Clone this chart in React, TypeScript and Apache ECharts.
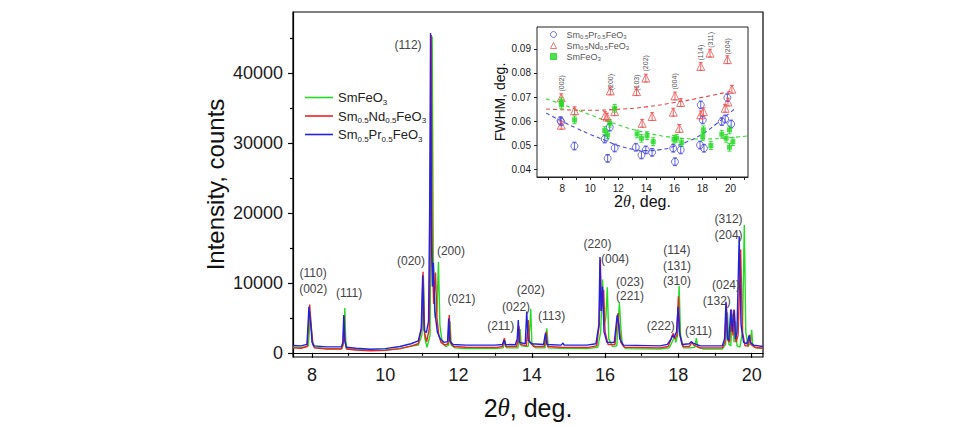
import { useEffect, useRef } from "react";
import * as echarts from "echarts";

const FONT = "'Liberation Sans', Arial, Helvetica, sans-serif";
const SERIF = "'Liberation Serif', 'Times New Roman', serif";

// X-ray diffraction patterns: [2θ (deg), intensity (counts)]
const smFeO3: number[][] = [
  [7.48, 800], [7.7, 750], [7.9, 1000], [7.93, 3500], [7.95, 5900], [7.98, 3500], [8.02, 1500], [8.08, 800],
  [8.4, 600], [8.82, 600], [8.87, 1500], [8.895, 6400], [8.92, 1700], [8.96, 550], [9.2, 450], [9.6, 350],
  [10.0, 400], [10.4, 600], [10.7, 950], [10.9, 1100], [11.0, 2500], [11.04, 10900], [11.08, 2000], [11.14, 800],
  [11.22, 2500], [11.25, 20000], [11.28, 45300], [11.31, 14000], [11.36, 5000], [11.41, 6000], [11.45, 13000],
  [11.49, 4000], [11.55, 1500], [11.65, 900], [11.73, 1100], [11.765, 4500], [11.8, 1100], [11.9, 700],
  [12.2, 600], [13.0, 600], [13.22, 700], [13.27, 1700], [13.31, 700], [13.62, 700], [13.68, 3400], [13.71, 1000],
  [13.9, 900], [13.95, 4000], [13.97, 6300], [14.0, 1500], [14.1, 700], [14.36, 700], [14.41, 3500], [14.45, 700],
  [14.8, 650], [15.5, 600], [15.8, 800], [15.88, 3000], [15.93, 10500], [15.97, 4000], [16.02, 5000], [16.06, 9400],
  [16.1, 2000], [16.2, 900], [16.32, 1000], [16.39, 7200], [16.43, 3500], [16.47, 1200], [16.56, 600], [17.5, 550],
  [17.75, 700], [17.85, 1800], [17.9, 2300], [17.93, 1500], [17.98, 2500], [18.02, 9600], [18.06, 2500], [18.14, 700],
  [18.3, 700], [18.45, 800], [18.49, 2100], [18.53, 800], [18.7, 550], [19.2, 550], [19.29, 1200], [19.34, 5800],
  [19.38, 1200], [19.43, 1000], [19.48, 5600], [19.52, 1500], [19.56, 4500], [19.6, 1000], [19.68, 800],
  [19.75, 3000], [19.8, 18300], [19.84, 3000], [19.9, 900], [19.97, 1500], [20.0, 3300], [20.03, 1200],
  [20.12, 700], [20.31, 600],
];

const smNdFeO3: number[][] = [
  [7.48, 700], [7.7, 650], [7.87, 900], [7.91, 4500], [7.935, 6900], [7.96, 4800], [7.99, 3000], [8.02, 1200],
  [8.07, 700], [8.4, 550], [8.8, 550], [8.85, 1300], [8.875, 5300], [8.9, 1700], [8.94, 550], [9.2, 400],
  [9.6, 300], [10.0, 350], [10.4, 600], [10.7, 950], [10.9, 1300], [10.99, 3500], [11.03, 11600], [11.07, 2800],
  [11.13, 1600], [11.2, 3500], [11.23, 20000], [11.255, 45500], [11.28, 14000], [11.32, 7000], [11.37, 11500],
  [11.41, 5000], [11.46, 2500], [11.52, 1500], [11.62, 1100], [11.71, 1300], [11.745, 5400], [11.78, 1400],
  [11.87, 900], [12.2, 800], [13.0, 750], [13.2, 900], [13.25, 2100], [13.29, 900], [13.58, 900], [13.62, 1800],
  [13.65, 3800], [13.68, 1200], [13.85, 1000], [13.9, 4700], [13.94, 1500], [14.05, 900], [14.34, 900],
  [14.39, 3050], [14.43, 900], [14.8, 800], [15.5, 750], [15.77, 1000], [15.84, 4000], [15.87, 13400],
  [15.9, 6000], [15.96, 9000], [16.0, 3000], [16.08, 1200], [16.27, 1200], [16.35, 5700], [16.39, 3500],
  [16.43, 1500], [16.52, 800], [17.5, 700], [17.72, 900], [17.82, 2200], [17.86, 2800], [17.9, 2000],
  [17.96, 2500], [18.0, 8100], [18.04, 2500], [18.12, 900], [18.3, 900], [18.37, 1500], [18.42, 1100],
  [18.6, 700], [19.2, 700], [19.27, 1500], [19.31, 7100], [19.35, 1800], [19.4, 1500], [19.45, 6200],
  [19.49, 2500], [19.53, 6100], [19.57, 1500], [19.63, 2500], [19.7, 14800], [19.75, 3000], [19.82, 1000],
  [19.9, 1000], [19.95, 2600], [19.98, 1200], [20.08, 800], [20.31, 650],
];

const smPrFeO3: number[][] = [
  [7.48, 1050], [7.7, 1000], [7.86, 1200], [7.89, 4000], [7.915, 6600], [7.94, 5200], [7.97, 3800], [8.0, 1500],
  [8.05, 1000], [8.4, 850], [8.8, 850], [8.84, 1500], [8.865, 5400], [8.89, 2000], [8.93, 800], [9.2, 650],
  [9.6, 500], [10.0, 600], [10.4, 900], [10.7, 1300], [10.9, 1700], [10.98, 3500], [11.02, 11100], [11.06, 3200],
  [11.12, 2900], [11.18, 4500], [11.21, 20000], [11.235, 45800], [11.26, 16000], [11.285, 9500], [11.31, 12900],
  [11.35, 6000], [11.42, 3000], [11.5, 2000], [11.6, 1500], [11.7, 1600], [11.73, 4900], [11.76, 1700],
  [11.85, 1200], [12.2, 1100], [13.0, 1100], [13.2, 1200], [13.24, 1850], [13.28, 1200], [13.55, 1150],
  [13.6, 2000], [13.63, 4700], [13.66, 1500], [13.82, 1300], [13.86, 5900], [13.9, 1800], [14.0, 1300],
  [14.32, 1200], [14.37, 2800], [14.41, 1200], [14.8, 1100], [14.85, 1400], [14.88, 1100], [15.5, 1100],
  [15.75, 1300], [15.83, 4000], [15.86, 13700], [15.89, 6000], [15.93, 9500], [15.97, 3000], [16.05, 1500],
  [16.25, 1500], [16.33, 5400], [16.37, 4000], [16.4, 2000], [16.5, 1100], [17.5, 1000], [17.7, 1200],
  [17.8, 2000], [17.84, 2500], [17.88, 2200], [17.95, 3000], [17.99, 6600], [18.03, 3000], [18.1, 1200],
  [18.3, 1300], [18.35, 1600], [18.4, 1400], [18.6, 1000], [19.2, 1000], [19.26, 2000], [19.3, 7300],
  [19.34, 2000], [19.38, 1800], [19.43, 6200], [19.47, 3000], [19.52, 6200], [19.56, 2000], [19.6, 3000],
  [19.66, 16700], [19.71, 4000], [19.78, 1500], [19.87, 1300], [19.93, 2500], [19.96, 1500], [20.05, 1100],
  [20.31, 900],
];

const xTicks = [8, 10, 12, 14, 16, 18, 20];
const xMinorTicks = [9, 11, 13, 15, 17, 19];
const yTicks = [0, 10000, 20000, 30000, 40000];
const yMinorTicks = [5000, 15000, 25000, 35000, 45000];

// Miller indices placed at [2θ, intensity]
const peakLabels: [string, number, number][] = [
  ["(110)", 8.03, 11420], ["(002)", 8.03, 9170], ["(111)", 9.01, 8560], ["(020)", 10.70, 13080],
  ["(112)", 10.62, 44140], ["(200)", 11.79, 14600], ["(021)", 12.08, 7740], ["(211)", 13.15, 3770],
  ["(022)", 13.57, 6550], ["(202)", 13.97, 8930], ["(113)", 14.54, 5200], ["(220)", 15.79, 15580],
  ["(004)", 16.27, 13430], ["(023)", 16.68, 10130], ["(221)", 16.68, 8070], ["(114)", 17.96, 14760],
  ["(131)", 17.96, 12470], ["(310)", 17.96, 10220], ["(222)", 17.52, 3770], ["(311)", 18.55, 3150],
  ["(024)", 19.30, 9740], ["(132)", 19.05, 7490], ["(312)", 19.37, 19160], ["(204)", 19.37, 16910],
];

// Peak widths: [2θ (deg), FWHM (deg)]
const fwhmPr: number[][] = [
  [7.88, 0.0603], [7.92, 0.0598], [8.87, 0.0498], [11.03, 0.0527], [11.24, 0.0447], [11.39, 0.0576],
  [11.74, 0.0490], [13.25, 0.0493], [13.65, 0.0461], [13.96, 0.0482], [14.41, 0.0472], [15.92, 0.0489],
  [16.04, 0.0433], [16.45, 0.0482], [17.83, 0.0502], [17.88, 0.0668], [18.02, 0.0606], [18.11, 0.0489],
  [19.38, 0.0599], [19.62, 0.0610], [19.78, 0.0698], [20.05, 0.0589],
];
const fwhmNd: number[][] = [
  [7.93, 0.0698], [7.93, 0.0584], [8.88, 0.0644], [11.05, 0.0624], [11.2, 0.0618], [11.43, 0.0726],
  [11.74, 0.0640], [13.30, 0.0723], [13.70, 0.0592], [13.96, 0.0779], [14.41, 0.0620], [15.92, 0.0638],
  [16.04, 0.0705], [16.35, 0.0571], [16.45, 0.0678], [17.88, 0.0827], [17.88, 0.0627], [18.07, 0.0640],
  [18.54, 0.0882], [19.62, 0.0654], [19.78, 0.0855], [19.82, 0.0680], [20.1, 0.0733],
];
const fwhmSm: number[][] = [
  [7.93, 0.0682], [7.95, 0.0668], [8.88, 0.0606], [11.03, 0.0562], [11.24, 0.0544], [11.39, 0.0592],
  [11.74, 0.0654], [13.34, 0.0548], [13.65, 0.0530], [14.05, 0.0541], [14.49, 0.0516], [15.97, 0.0526],
  [16.16, 0.0530], [16.52, 0.0512], [18.02, 0.0537], [18.07, 0.0565], [18.6, 0.0500], [19.38, 0.0547],
  [19.69, 0.0530], [19.93, 0.0565], [19.93, 0.0493], [20.17, 0.0516],
];
const fwhmError = 0.0016;

// Parabolic trends through the widths
const trendPr: number[][] = [
  [6.85, 0.0634], [8, 0.0600], [9, 0.0572], [10, 0.0546], [11, 0.0523], [12, 0.0500], [13, 0.0485],
  [14, 0.0479], [15, 0.0483], [16, 0.0497], [17, 0.0518], [18, 0.0548], [19, 0.0590], [20.3, 0.0652],
];
const trendNd: number[][] = [
  [6.85, 0.0651], [8, 0.0648], [10, 0.0646], [12, 0.0650], [14, 0.0660], [16, 0.0678], [18, 0.0699], [20.2, 0.0727],
];
const trendSm: number[][] = [
  [6.85, 0.0693], [8, 0.0670], [10, 0.0627], [12, 0.0585], [14, 0.0553], [16, 0.0533], [18, 0.0527],
  [20, 0.0533], [21.25, 0.0540],
];

const fwhmLabels: [string, number, number][] = [
  ["(002)", 7.93, 0.0757], ["(200)", 11.43, 0.0762], ["(103)", 13.30, 0.0760], ["(202)", 13.96, 0.0840],
  ["(004)", 16.04, 0.0765], ["(114)", 17.88, 0.0884], ["(311)", 18.54, 0.0937], ["(204)", 19.78, 0.0910],
];

const insetXTicks = [8, 10, 12, 14, 16, 18, 20];
const insetXAllTicks = [7, 8, 9, 10, 11, 12, 13, 14, 15, 16, 17, 18, 19, 20, 21];
const insetYTicks = [0.04, 0.05, 0.06, 0.07, 0.08, 0.09];

const NAMES = ["SmFeO3", "Sm0.5Nd0.5FeO3", "Sm0.5Pr0.5FeO3"];
const FWHM_NAMES = ["Sm0.5Pr0.5FeO3 FWHM", "Sm0.5Nd0.5FeO3 FWHM", "SmFeO3 FWHM"];

const GREEN = "#22dd22";
const RED = "#ee2222";
const BLUE = "#2222dd";
const P_BLUE = "#5050dd";
const P_RED = "#ee5555";
const P_GREEN = "#22d822";

// Chemical formula -> rich text with subscripted numbers
const formula = (s: string) =>
  s.replace(/(\d+(?:\.\d+)?)|([^\d]+)/g, (_m, d, t) => (d ? `{s|${d}}` : `{n|${t}}`));

const errorBars = (data: number[][], color: string, name: string) => ({
  type: "custom",
  name,
  xAxisIndex: 2,
  yAxisIndex: 2,
  silent: true,
  z: 3,
  data: data.map((p) => [p[0], p[1], fwhmError]),
  encode: { x: 0, y: 1 },
  renderItem: (_params: any, api: any) => {
    const x = api.value(0);
    const y = api.value(1);
    const e = api.value(2);
    const top = api.coord([x, y + e]);
    const bot = api.coord([x, y - e]);
    const cap = 2;
    const style = { stroke: color, lineWidth: 0.9 };
    return {
      type: "group",
      children: [
        { type: "line", shape: { x1: top[0], y1: top[1], x2: bot[0], y2: bot[1] }, style },
        { type: "line", shape: { x1: top[0] - cap, y1: top[1], x2: top[0] + cap, y2: top[1] }, style },
        { type: "line", shape: { x1: bot[0] - cap, y1: bot[1], x2: bot[0] + cap, y2: bot[1] }, style },
      ],
    };
  },
});

const trend = (data: number[][], color: string) => ({
  type: "line",
  xAxisIndex: 2,
  yAxisIndex: 2,
  data,
  smooth: true,
  symbol: "none",
  silent: true,
  z: 2,
  lineStyle: { color, width: 1.1, type: [4, 3] },
});

const spectrum = (name: string, data: number[][], color: string) => ({
  type: "line",
  name,
  xAxisIndex: 0,
  yAxisIndex: 0,
  data,
  symbol: "none",
  showSymbol: false,
  color,
  lineStyle: { color, width: 1.4 },
});

const axisText = { color: "#1a1a1a", fontFamily: FONT };

function buildOption(): any {
  const thetaName = (size: number) => ({
    fontFamily: FONT,
    color: "#111",
    rich: {
      n: { fontSize: size, fontFamily: FONT, color: "#111" },
      i: { fontSize: size, fontFamily: SERIF, fontStyle: "italic", color: "#111" },
    },
  });
  return {
    animation: false,
    backgroundColor: "#fff",
    grid: [
      { left: 293, top: 12, width: 470, height: 345, show: true, borderColor: "#000", borderWidth: 1.2, backgroundColor: "transparent", outerBoundsMode: "none" },
      { left: 537, top: 27, width: 211, height: 150, show: true, borderColor: "#222", borderWidth: 1, backgroundColor: "#fff", outerBoundsMode: "none", z: 1 },
    ],
    legend: [
      {
        data: NAMES.map((name) => ({ name, icon: "rect" })),
        orient: "vertical",
        left: 300,
        top: 86,
        itemWidth: 28,
        itemHeight: 1.6,
        itemGap: 3,
        selectedMode: false,
        formatter: (n: string) => formula(n),
        textStyle: {
          rich: {
            n: { fontSize: 13, lineHeight: 18, fontFamily: FONT, color: "#222" },
            s: { fontSize: 8, lineHeight: 8, verticalAlign: "bottom", fontFamily: FONT, color: "#222" },
          },
        },
      },
      {
        data: FWHM_NAMES,
        orient: "vertical",
        left: 545,
        top: 25,
        itemWidth: 6,
        itemHeight: 6,
        itemGap: 1,
        selectedMode: false,
        itemStyle: { borderWidth: 1 },
        formatter: (n: string) => formula(n.replace(" FWHM", "")),
        textStyle: {
          padding: [0, 0, 0, 5],
          rich: {
            n: { fontSize: 9, lineHeight: 11, fontFamily: FONT, color: "#555" },
            s: { fontSize: 6, lineHeight: 6, verticalAlign: "bottom", fontFamily: FONT, color: "#555" },
          },
        },
      },
    ],
    xAxis: [
      {
        gridIndex: 0, type: "value", min: 7.48, max: 20.31, position: "bottom",
        axisLine: { show: true, lineStyle: { color: "#000", width: 1.2 } },
        axisTick: { show: true, customValues: xTicks, length: 5, inside: false, lineStyle: { color: "#000", width: 1.2 } },
        axisLabel: { customValues: xTicks, fontSize: 18, margin: 9, ...axisText },
        splitLine: { show: false },
        name: "{n|2}{i|θ}{n|, deg.}", nameLocation: "middle", nameGap: 38, nameTextStyle: thetaName(25),
      },
      {
        gridIndex: 0, type: "value", min: 7.48, max: 20.31, position: "bottom",
        axisLine: { show: false },
        axisTick: { show: true, customValues: xMinorTicks, length: 3, lineStyle: { color: "#000", width: 1.2 } },
        axisLabel: { show: false },
        splitLine: { show: false },
      },
      {
        gridIndex: 1, type: "value", min: 6.2, max: 21.25, position: "bottom",
        axisLine: { show: true, lineStyle: { color: "#222", width: 1 } },
        axisTick: { show: true, customValues: insetXAllTicks, length: 3, lineStyle: { color: "#222", width: 1 } },
        axisLabel: { customValues: insetXTicks, fontSize: 10, margin: 6, ...axisText },
        splitLine: { show: false },
        name: "{n|2}{i|θ}{n|, deg.}", nameLocation: "middle", nameGap: 16, nameTextStyle: thetaName(16),
      },
    ],
    yAxis: [
      {
        gridIndex: 0, type: "value", min: -600, max: 48800, position: "left",
        axisLine: { show: true, lineStyle: { color: "#000", width: 1.2 } },
        axisTick: { show: true, customValues: yTicks, length: 5, lineStyle: { color: "#000", width: 1.2 } },
        axisLabel: { customValues: yTicks, fontSize: 18, margin: 10, formatter: (v: number) => String(v), ...axisText },
        splitLine: { show: false },
        name: "Intensity, counts", nameLocation: "middle", nameGap: 66,
        nameTextStyle: { fontSize: 24, fontFamily: FONT, color: "#111" },
      },
      {
        gridIndex: 0, type: "value", min: -600, max: 48800, position: "left",
        axisLine: { show: false },
        axisTick: { show: true, customValues: yMinorTicks, length: 3, lineStyle: { color: "#000", width: 1.2 } },
        axisLabel: { show: false },
        splitLine: { show: false },
      },
      {
        gridIndex: 1, type: "value", min: 0.037, max: 0.099, position: "left",
        axisLine: { show: true, lineStyle: { color: "#222", width: 1 } },
        axisTick: { show: true, customValues: insetYTicks, length: 3, lineStyle: { color: "#222", width: 1 } },
        axisLabel: { customValues: insetYTicks, fontSize: 10, margin: 6, formatter: (v: number) => v.toFixed(2), ...axisText },
        splitLine: { show: false },
        name: "FWHM, deg.", nameLocation: "middle", nameGap: 30,
        nameTextStyle: { fontSize: 14, fontFamily: FONT, color: "#111" },
      },
    ],
    series: [
      spectrum(NAMES[0], smFeO3, GREEN),
      spectrum(NAMES[1], smNdFeO3, RED),
      spectrum(NAMES[2], smPrFeO3, BLUE),
      {
        type: "custom",
        xAxisIndex: 0,
        yAxisIndex: 0,
        silent: true,
        z: 5,
        data: peakLabels.map((l) => [l[1], l[2]]),
        encode: { x: 0, y: 1 },
        renderItem: (params: any, api: any) => {
          const p = api.coord([api.value(0), api.value(1)]);
          return {
            type: "text",
            x: p[0],
            y: p[1],
            style: {
              text: peakLabels[params.dataIndex][0],
              fontSize: 12,
              fontFamily: FONT,
              fill: "#444",
              align: "center",
              verticalAlign: "middle",
            },
          };
        },
      },
      trend(trendNd, "#ee4444"),
      trend(trendSm, "#33dd33"),
      trend(trendPr, "#4a4add"),
      errorBars(fwhmPr, P_BLUE, "err-pr"),
      errorBars(fwhmNd, P_RED, "err-nd"),
      errorBars(fwhmSm, P_GREEN, "err-sm"),
      {
        type: "scatter", name: FWHM_NAMES[0], xAxisIndex: 2, yAxisIndex: 2, data: fwhmPr,
        symbol: "circle", symbolSize: 7, z: 4,
        itemStyle: { color: "rgba(255,255,255,0)", borderColor: P_BLUE, borderWidth: 1 },
      },
      {
        type: "scatter", name: FWHM_NAMES[1], xAxisIndex: 2, yAxisIndex: 2, data: fwhmNd,
        symbol: "triangle", symbolSize: 8, z: 4,
        itemStyle: { color: "rgba(255,255,255,0)", borderColor: P_RED, borderWidth: 1 },
      },
      {
        type: "scatter", name: FWHM_NAMES[2], xAxisIndex: 2, yAxisIndex: 2, data: fwhmSm,
        symbol: "rect", symbolSize: 5, z: 4,
        itemStyle: { color: P_GREEN, borderColor: P_GREEN, borderWidth: 0 },
      },
      {
        type: "custom",
        xAxisIndex: 2,
        yAxisIndex: 2,
        silent: true,
        z: 5,
        data: fwhmLabels.map((l) => [l[1], l[2]]),
        encode: { x: 0, y: 1 },
        renderItem: (params: any, api: any) => {
          const p = api.coord([api.value(0), api.value(1)]);
          return {
            type: "text",
            x: p[0],
            y: p[1],
            rotation: Math.PI / 2,
            style: {
              text: fwhmLabels[params.dataIndex][0],
              fontSize: 7,
              fontFamily: FONT,
              fill: "#555",
              align: "center",
              verticalAlign: "middle",
            },
          };
        },
      },
    ],
  };
}

export default function App() {
  const ref = useRef<HTMLDivElement>(null);
  useEffect(() => {
    if (!ref.current) return;
    const chart = echarts.init(ref.current, null, { renderer: "svg" });
    chart.setOption(buildOption());
    return () => chart.dispose();
  }, []);
  return (
    <div
      ref={ref}
      style={{ position: "fixed", left: 0, top: 0, width: 963, height: 426, background: "#fff" }}
    />
  );
}
